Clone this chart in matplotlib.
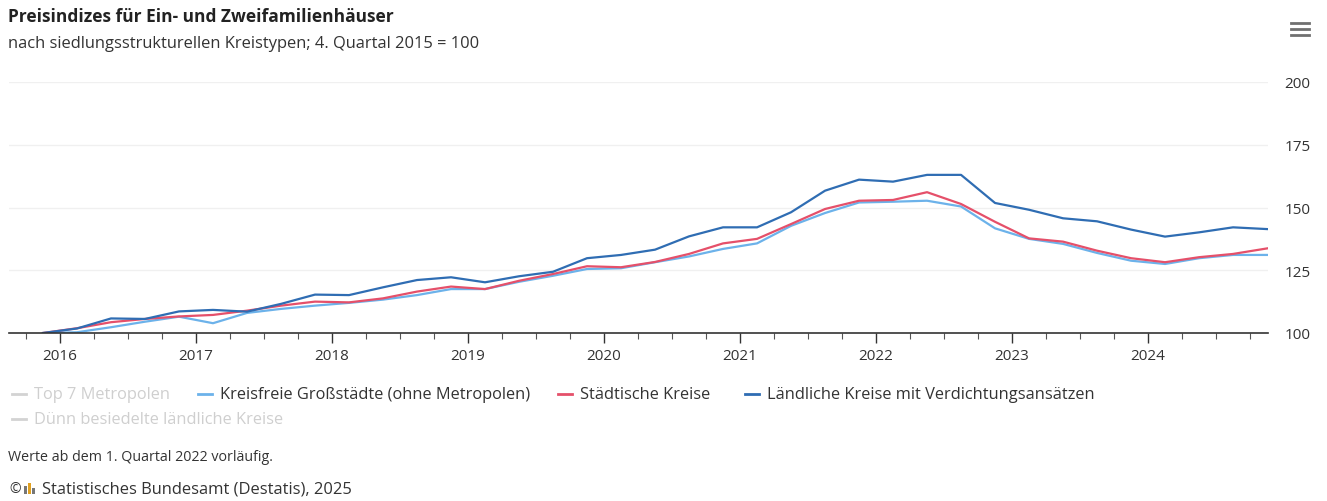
import numpy as np
import matplotlib
matplotlib.use("Agg")
import matplotlib.pyplot as plt
from matplotlib.lines import Line2D
from matplotlib.patches import Rectangle

plt.rcParams['font.family'] = ['Open Sans', 'DejaVu Sans']

# Quartale 2015 Q4 bis 2024 Q4
quartale = ["2015 Q4"] + ["%d Q%d" % (j, q) for j in range(2016, 2025) for q in range(1, 5)]

grossstaedte = [100, 100.3, 102.3, 104.5, 106.5, 103.9, 108.0, 109.6, 110.9, 112.0,
                113.3, 115.1, 117.5, 117.5, 120.4, 122.8, 125.5, 125.8, 128.2, 130.5,
                133.5, 135.7, 142.7, 147.8, 152.0, 152.3, 152.7, 150.4, 141.7, 137.5,
                135.5, 131.9, 128.8, 127.5, 129.8, 131.1, 131.1]
staedtisch = [100, 101.9, 104.3, 105.6, 106.6, 107.2, 108.9, 110.9, 112.5, 112.2,
              113.8, 116.5, 118.5, 117.5, 120.8, 123.5, 126.6, 126.2, 128.3, 131.5,
              135.7, 137.5, 143.4, 149.4, 152.7, 153.0, 156.1, 151.4, 144.3, 137.7,
              136.4, 132.8, 129.8, 128.2, 130.2, 131.5, 133.7]
laendlich = [100, 101.8, 105.8, 105.6, 108.6, 109.2, 108.5, 111.6, 115.3, 115.1,
             118.2, 121.1, 122.2, 120.2, 122.6, 124.4, 129.8, 131.1, 133.2, 138.5,
             142.1, 142.1, 148.1, 156.7, 161.1, 160.3, 163.0, 163.0, 151.8, 149.1,
             145.7, 144.5, 141.2, 138.4, 140.1, 142.1, 141.4]

legend_labels = ["Top 7 Metropolen", "Kreisfreie Großstädte (ohne Metropolen)",
                 "Städtische Kreise", "Ländliche Kreise mit Verdichtungsansätzen",
                 "Dünn besiedelte ländliche Kreise"]
jahre = list(range(2016, 2025))
y_ticks = [100, 125, 150, 175, 200]

c_hell = "#6cb2ea"
c_rot = "#e5506a"
c_dunkel = "#2f6db3"
c_aus = "#d3d3d3"

# Mitte des Quartals als x-Position
x = np.array([int(s[:4]) + (int(s[-1]) - 1) / 4 + 0.125 for s in quartale])

W, H = 1327, 502
fig = plt.figure(figsize=(W / 100, H / 100), dpi=100)
ax = fig.add_axes([9 / W, 1 - 334 / H, (1268 - 9) / W, (334 - 83) / H])

ax.plot(x, grossstaedte, color=c_hell, lw=1.6, solid_joinstyle='round')
ax.plot(x, staedtisch, color=c_rot, lw=1.6, solid_joinstyle='round')
ax.plot(x, laendlich, color=c_dunkel, lw=1.6, solid_joinstyle='round')

ax.set_xlim(2015.625, 2024.882)
ax.set_ylim(100, 200)
for v in y_ticks[1:]:
    ax.axhline(v, color="#f0f0f0", lw=1, zorder=0)

for s in ["top", "right", "left"]:
    ax.spines[s].set_visible(False)
ax.spines["bottom"].set_color("#333333")
ax.spines["bottom"].set_linewidth(1.2)

ax.set_xticks(jahre)
ax.set_xticklabels([str(j) for j in jahre])
ax.set_xticks(np.arange(2015.75, 2024.9, 0.25), minor=True)
ax.tick_params(axis="x", which="major", length=7, width=1, color="#333333",
               labelsize=11, labelcolor="#333333", pad=4)
ax.tick_params(axis="x", which="minor", length=4.5, width=0.8, color="#555555")

ax.yaxis.tick_right()
ax.set_yticks(y_ticks)
ax.tick_params(axis="y", length=0, labelsize=11, labelcolor="#333333", pad=12)

# Titel
fig.text(8 / W, 1 - 17 / H, "Preisindizes für Ein- und Zweifamilienhäuser",
         fontsize=12.5, fontweight="bold", color="#222222", va="center")
fig.text(8 / W, 1 - 44 / H, "nach siedlungsstrukturellen Kreistypen; 4. Quartal 2015 = 100",
         fontsize=11.9, color="#333333", va="center")

# Menü-Symbol
for yy in [24, 30, 36]:
    fig.add_artist(Line2D([1291 / W, 1309 / W], [1 - yy / H, 1 - yy / H],
                          color="#707070", lw=2))

# Legende
legend_pos = [(12, 395), (198, 395), (558, 395), (745, 395), (12, 420)]
legend_col = [c_aus, c_hell, c_rot, c_dunkel, c_aus]
for lab, (px, py), col in zip(legend_labels, legend_pos, legend_col):
    fig.add_artist(Line2D([px / W, (px + 14) / W], [1 - py / H, 1 - py / H],
                          color=col, lw=2))
    tcol = "#333333" if col != c_aus else "#cfcfcf"
    fig.text((px + 22) / W, 1 - py / H, lab, fontsize=11.8, color=tcol, va="center")

# Fußnoten
fig.text(8 / W, 1 - 458 / H, "Werte ab dem 1. Quartal 2022 vorläufig.",
         fontsize=10.3, color="#333333", va="center")
fig.text(9 / W, 1 - 490 / H, "©", fontsize=10, color="#333333", va="center")
for i, (hh, col) in enumerate([(8, "#777777"), (11, "#e0a020"), (6, "#777777")]):
    fig.add_artist(Rectangle(((24 + i * 4) / W, 1 - 495 / H), 2.5 / W, hh / H,
                             color=col, lw=0))
fig.text(42 / W, 1 - 490 / H, "Statistisches Bundesamt (Destatis), 2025",
         fontsize=11.9, color="#333333", va="center")

fig.savefig("out.png", dpi=100)
